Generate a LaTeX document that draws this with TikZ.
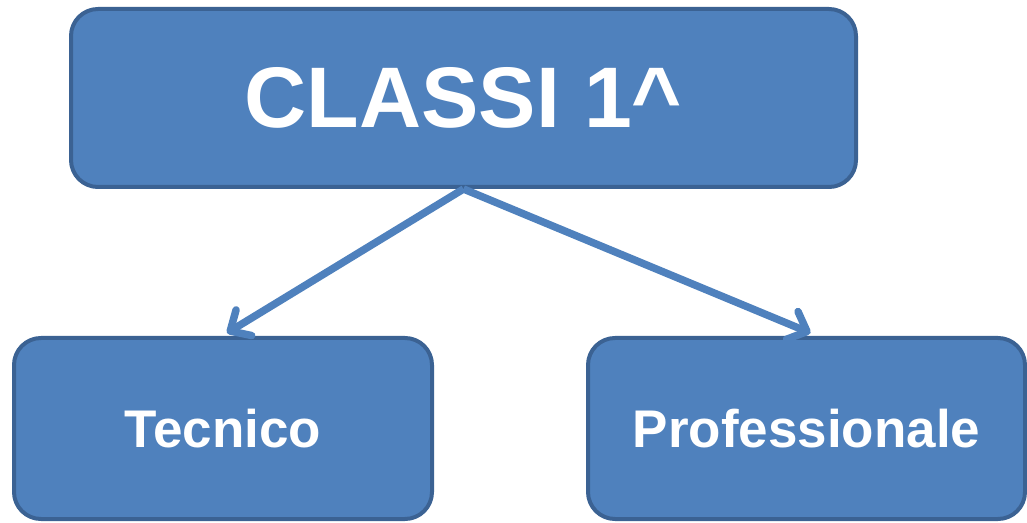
\documentclass[tikz,border=0pt]{standalone}
\usepackage{fontspec}
\setmainfont{Liberation Sans}
\usepackage{tikz}
\usetikzlibrary{arrows.meta}
\definecolor{boxfill}{HTML}{4F81BD}
\definecolor{boxline}{HTML}{3B6293}
\tikzset{
  classbox/.style={draw=boxline, line width=4pt, fill=boxfill, rounded corners=27pt,
    text=white, font=\bfseries, inner sep=0pt},
  link/.style={draw=boxfill, line width=7.5pt, -{Straight Barb[round,length=16pt,width=30pt]}}
}

\begin{document}
\begin{tikzpicture} [x=1pt, y=1pt]
\useasboundingbox (0,0) rectangle (1027,522);
\node[classbox, minimum width=785, minimum height=178, font=\bfseries\fontsize{86}{90}\selectfont] (classi) at (463.5,424) {CLASSI 1\^{}};
\node[classbox, minimum width=418, minimum height=181, font=\bfseries\fontsize{53}{60}\selectfont] (tecnico) at (223,93.5) {Tecnico};
\node[classbox, minimum width=437, minimum height=181, font=\bfseries\fontsize{53}{60}\selectfont] (prof) at (806.5,93.5) {Professionale};
\draw[link] (classi.south) -- ([xshift=4pt,yshift=3pt]tecnico.north);
\draw[link] (classi.south) -- ([xshift=4pt,yshift=3pt]prof.north);
\end{tikzpicture}
\end{document}
